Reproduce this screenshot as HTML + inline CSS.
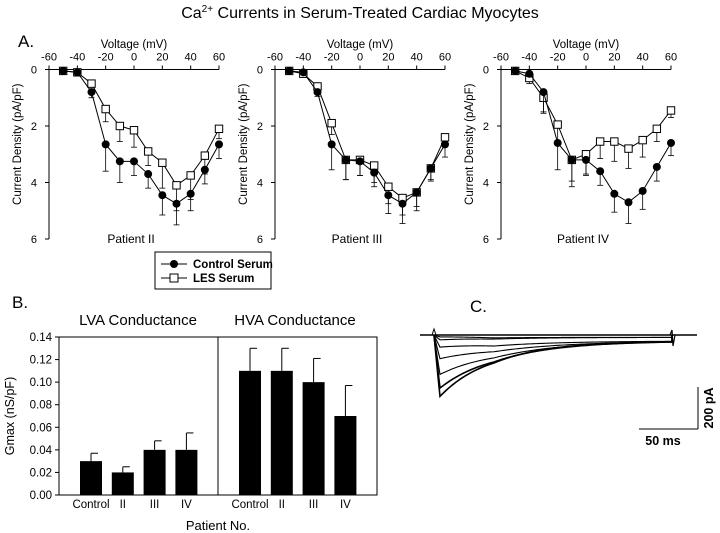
<!DOCTYPE html>
<html><head><meta charset="utf-8"><style>
html,body{margin:0;padding:0;background:#fff;}
svg{display:block;font-family:"Liberation Sans",Arial,sans-serif;}
</style></head><body>
<svg id="fig" width="720" height="533" viewBox="0 0 720 533">
<text x="360" y="18" text-anchor="middle" font-size="16">Ca<tspan font-size="10" dy="-6">2+</tspan><tspan dy="6"> Currents in Serum-Treated Cardiac Myocytes</tspan></text>
<text x="18" y="47" font-size="17">A.</text>
<text x="12" y="308" font-size="17">B.</text>
<text x="470" y="312" font-size="17">C.</text>
<g id="legend">
<rect x="155" y="252" width="116" height="37" fill="#fff" stroke="#000" stroke-width="1"/>
<line x1="161" y1="264" x2="187" y2="264" stroke="#000"/><circle cx="174" cy="264" r="4" fill="#000"/>
<text x="193" y="268" font-size="11.5" font-weight="bold">Control Serum</text>
<line x1="161" y1="278" x2="187" y2="278" stroke="#000"/><rect x="170" y="274" width="8" height="8" fill="#fff" stroke="#000"/>
<text x="193" y="282" font-size="11.5" font-weight="bold">LES Serum</text>
</g>
<g id="gA"></g><g id="gB"></g><g id="gC"></g>
</svg>
<script>
const NS="http://www.w3.org/2000/svg";
function mk(p,t,a){const e=document.createElementNS(NS,t);for(const k in a)e.setAttribute(k,a[k]);p.appendChild(e);return e;}
// Panel A data
const voltages=[-50,-40,-30,-20,-10,0,10,20,30,40,50,60];
const vTicks=[-60,-40,-20,0,20,40,60];
const dTicks=[0,2,4,6];
const patients=["Patient II","Patient III","Patient IV"];
const ctrlII=[0.05,0.1,0.8,2.65,3.25,3.25,3.7,4.45,4.75,4.4,3.55,2.65];
const ctrlErrII=[0,0,0.2,0.95,0.75,0.5,0.5,0.7,0.75,0.6,0.5,0.5];
const lesII=[0.05,0.1,0.5,1.4,2.0,2.15,2.9,3.3,4.1,3.75,3.05,2.1];
const lesErrII=[0,0,0.1,0.45,0.55,0.6,0.5,0.9,0.9,0.85,0.65,0.35];
const ctrlIII=[0.05,0.1,0.8,2.65,3.2,3.25,3.65,4.45,4.75,4.35,3.5,2.65];
const ctrlErrIII=[0,0,0.15,0.9,0.7,0.5,0.5,0.65,0.7,0.65,0.45,0.45];
const lesIII=[0.05,0.15,0.6,1.9,3.2,3.2,3.4,4.15,4.55,4.35,3.5,2.4];
const lesErrIII=[0,0,0.1,0.4,0.7,0.55,0.6,0.6,0.6,0.5,0.4,0.3];
const ctrlIV=[0.05,0.15,0.8,2.6,3.2,3.2,3.6,4.4,4.7,4.3,3.45,2.6];
const ctrlErrIV=[0,0.1,0.7,0.95,0.75,0.55,0.5,0.65,0.75,0.65,0.5,0.45];
const lesIV=[0.05,0.3,1.0,1.95,3.2,3.0,2.55,2.55,2.8,2.5,2.1,1.45];
const lesErrIV=[0,0.2,0.55,0.6,0.95,0.7,0.6,0.7,0.7,0.6,0.45,0.25];
const ctrlSets=[ctrlII,ctrlIII,ctrlIV],ctrlErrs=[ctrlErrII,ctrlErrIII,ctrlErrIV];
const lesSets=[lesII,lesIII,lesIV],lesErrs=[lesErrII,lesErrIII,lesErrIV];
// Panel B data
const barCats=["Control","II","III","IV"];
const lvaVals=[0.03,0.02,0.04,0.04];
const lvaErr=[0.007,0.005,0.008,0.015];
const hvaVals=[0.11,0.11,0.10,0.07];
const hvaErr=[0.02,0.02,0.021,0.027];
const gTicks=[0,0.02,0.04,0.06,0.08,0.10,0.12,0.14];
// Panel C data (trace peak amplitudes in pA and decay constants in ms)
const tracePeaks=[290,250,185,110,55,22,8];
const traceTau=[45,50,55,60,55,45,35];

const gA=document.getElementById('gA');
const lefts=[49,275,501];
patients.forEach((pn,i)=>{
  const L=lefts[i],W=170,T=69.5,H=169.5;
  const x=v=>L+(v+60)/120*W, y=d=>T+d/6*H;
  const g=mk(gA,'g',{});
  
  
  mk(g,'line',{x1:L,y1:T,x2:L+W,y2:T,stroke:'#000'});
  mk(g,'line',{x1:L,y1:T,x2:L,y2:T+H,stroke:'#000'});
  vTicks.forEach(v=>{mk(g,'line',{x1:x(v),y1:T,x2:x(v),y2:T-4,stroke:'#000'});
    const t=mk(g,'text',{x:x(v),y:T-9,'text-anchor':'middle','font-size':11});t.textContent=v;
    });
  dTicks.forEach(d=>{mk(g,'line',{x1:L,y1:y(d),x2:L-4,y2:y(d),stroke:'#000'});
    const t=mk(g,'text',{x:L-12,y:y(d)+4,'text-anchor':'end','font-size':11});t.textContent=d;
    });
  const xt=mk(g,'text',{x:L+W/2,y:48,'text-anchor':'middle','font-size':11.5});xt.textContent='Voltage (mV)';
  
  const yt=mk(g,'text',{x:0,y:0,'text-anchor':'middle','font-size':11.5,transform:`translate(${L-28},${T+H/2-10}) rotate(-90)`});yt.textContent='Current Density (pA/pF)';
  
  const pt=mk(g,'text',{x:L+W/2-3,y:243,'text-anchor':'middle','font-size':12});pt.textContent=pn;
  
  [[lesSets[i],lesErrs[i],false],[ctrlSets[i],ctrlErrs[i],true]].forEach(([vals,errs,filled])=>{
    let d='';vals.forEach((v,k)=>{d+=(k?'L':'M')+x(voltages[k])+','+y(v);});
    mk(g,'path',{d:d,fill:'none',stroke:'#000','stroke-width':1});
    vals.forEach((v,k)=>{if(errs[k]>0){const cx=x(voltages[k]);
      mk(g,'line',{x1:cx,y1:y(v),x2:cx,y2:y(v+errs[k]),stroke:'#000','stroke-width':0.8});
      mk(g,'line',{x1:cx-3,y1:y(v+errs[k]),x2:cx+3,y2:y(v+errs[k]),stroke:'#000','stroke-width':0.8});}});
    vals.forEach((v,k)=>{const cx=x(voltages[k]),cy=y(v);let m;
      if(filled)m=mk(g,'circle',{cx:cx,cy:cy,r:4,fill:'#000'});
      else m=mk(g,'rect',{x:cx-3.7,y:cy-3.7,width:7.4,height:7.4,fill:'#fff',stroke:'#000'});
      });
  });
});

// Panel B
const gB=document.getElementById('gB');
(function(){
  const L=59,R=377,T=337,B=495;
  const y=v=>B-v/0.14*(B-T);
  mk(gB,'rect',{x:L,y:T,width:R-L,height:B-T,fill:'none',stroke:'#000'});
  mk(gB,'line',{x1:218,y1:T,x2:218,y2:B,stroke:'#000'});
  gTicks.forEach(v=>{mk(gB,'line',{x1:L,y1:y(v),x2:L-4,y2:y(v),stroke:'#000'});
    const t=mk(gB,'text',{x:L-7,y:y(v)+4,'text-anchor':'end','font-size':11.5});t.textContent=v.toFixed(2);
    });
  const yt=mk(gB,'text',{x:0,y:0,'text-anchor':'middle','font-size':12.5,transform:`translate(14,${(T+B)/2}) rotate(-90)`});yt.textContent='Gmax (nS/pF)';
  
  const t1=mk(gB,'text',{x:138,y:325,'text-anchor':'middle','font-size':15});t1.textContent='LVA Conductance';
  
  const t2=mk(gB,'text',{x:295,y:325,'text-anchor':'middle','font-size':15});t2.textContent='HVA Conductance';
  
  const xl=mk(gB,'text',{x:218,y:530,'text-anchor':'middle','font-size':13});xl.textContent='Patient No.';
  
  [[lvaVals,lvaErr,91,'lva'],[hvaVals,hvaErr,250,'hva']].forEach(([vals,errs,x0,nm])=>{
    vals.forEach((v,k)=>{const cx=x0+k*31.8;
      const top=y(v+errs[k]);
      mk(gB,'line',{x1:cx,y1:y(v),x2:cx,y2:top,stroke:'#000'});
      mk(gB,'line',{x1:cx,y1:top,x2:cx+7,y2:top,stroke:'#000'});
      const b=mk(gB,'rect',{x:cx-11,y:y(v),width:22,height:B-y(v),fill:'#000'});
      
      const t=mk(gB,'text',{x:cx,y:508,'text-anchor':'middle','font-size':11.5});t.textContent=barCats[k];
      });
  });
})();

// Panel C
const gC=document.getElementById('gC');
(function(){
  const x0=434,x1=672,base=335,pxPerMs=59/50,pxPerPA=42/200;
  mk(gC,'line',{x1:420,y1:base,x2:697,y2:base,stroke:'#000','stroke-width':1.5});
  mk(gC,'path',{d:`M${x0-2},${base}L${x0},${base-6}L${x0+2},${base}`,fill:'none',stroke:'#000'});
  mk(gC,'path',{d:`M${x1-2},${base}L${x1},${base-5}L${x1+1},${base+11}L${x1+3},${base}`,fill:'none',stroke:'#000','stroke-width':1.2});
  tracePeaks.forEach((p,k)=>{let d=`M${x0},${base}`;
    const tp=5;
    for(let xp=x0;xp<=x1;xp+=2){const t=(xp-x0)/pxPerMs;let a;
      if(t<tp)a=p*(t/tp);else a=p*Math.exp(-(t-tp)/traceTau[k]);
      const off=Math.min(6,(xp-x0)*0.1)*(k<5?1:0.4);
      d+=`L${xp},${base+a*pxPerPA+off}`;}
    d+=`L${x1},${base}`;
    const tr=mk(gC,'path',{d:d,fill:'none',stroke:'#000','stroke-width':k<2?1.6:1.1});
    });
  mk(gC,'line',{x1:698,y1:387,x2:698,y2:429,stroke:'#000'});
  mk(gC,'line',{x1:639,y1:429,x2:698,y2:429,stroke:'#000'});
  const s1=mk(gC,'text',{x:663,y:445,'text-anchor':'middle','font-size':12.5,'font-weight':'bold'});s1.textContent='50 ms';
  
  const s2=mk(gC,'text',{x:0,y:0,'text-anchor':'middle','font-size':12.5,'font-weight':'bold',transform:'translate(713,408) rotate(-90)'});s2.textContent='200 pA';
  
})();
</script>
</body></html>
